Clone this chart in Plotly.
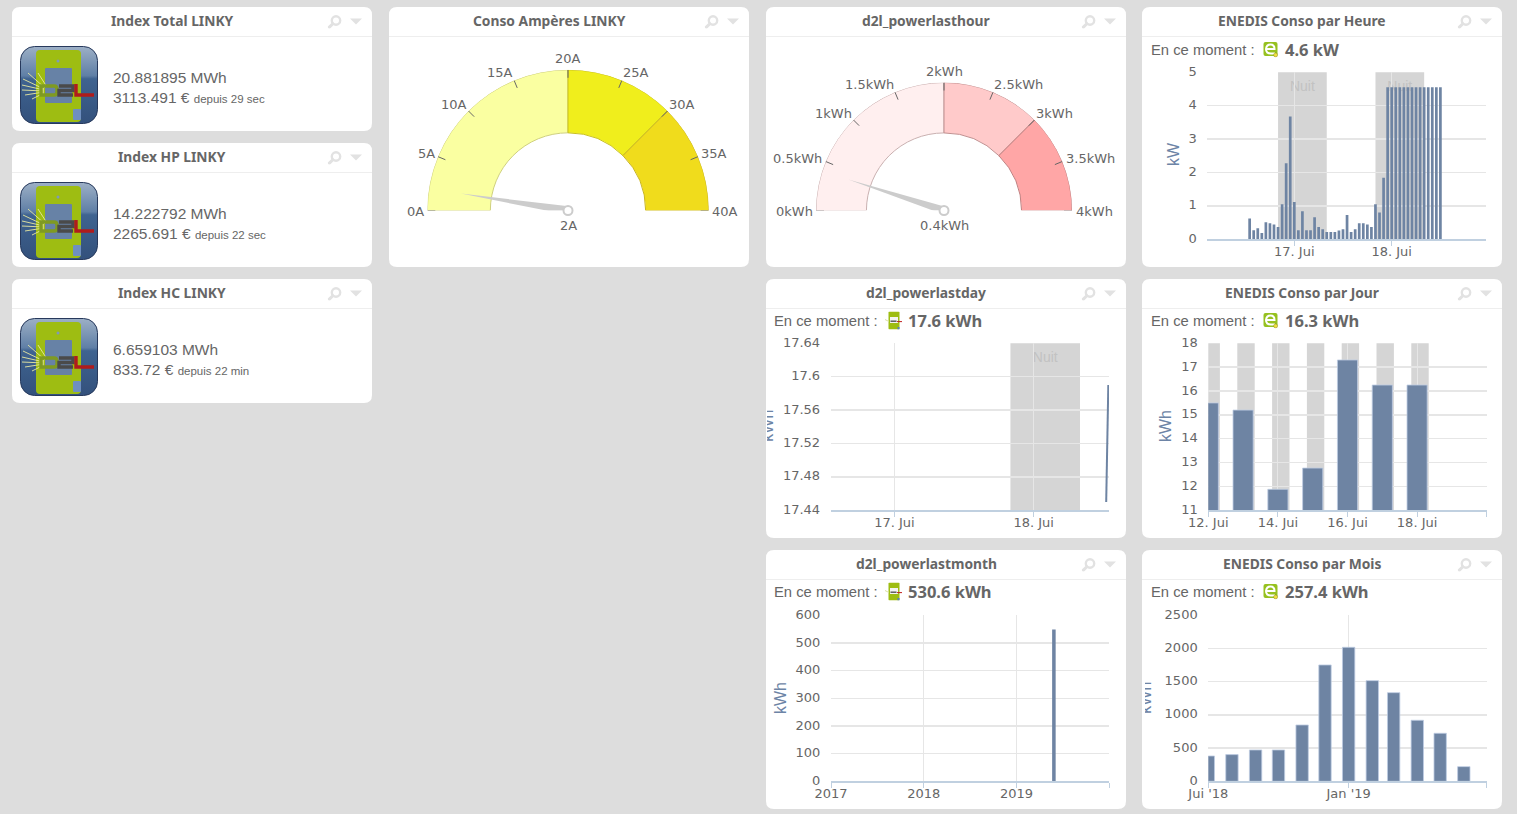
import base64
import math
import plotly.graph_objects as go

W, H = 1517, 814
BG = "#DDDDDD"
TXT = "#666666"
BAR = "#6E84A3"
AXIS = "#C0D0E0"
GRID = "#E6E6E6"
BAND = "#D5D5D5"
TITLE_BLUE = "#6D84A6"
TICK_FONT = "DejaVu Sans"
BODY_FONT = "Liberation Sans"
HEAD_FONT = "Noto Sans"

# ---------- data ----------
HOUR_TIMES = [
    "2019-06-16 13:00", "2019-06-16 14:00", "2019-06-16 15:00", "2019-06-16 16:00", "2019-06-16 17:00", "2019-06-16 18:00",
    "2019-06-16 19:00", "2019-06-16 20:00", "2019-06-16 21:00", "2019-06-16 22:00", "2019-06-16 23:00", "2019-06-17 00:00",
    "2019-06-17 01:00", "2019-06-17 02:00", "2019-06-17 03:00", "2019-06-17 04:00", "2019-06-17 05:00", "2019-06-17 06:00",
    "2019-06-17 07:00", "2019-06-17 08:00", "2019-06-17 09:00", "2019-06-17 10:00", "2019-06-17 11:00", "2019-06-17 12:00",
    "2019-06-17 13:00", "2019-06-17 14:00", "2019-06-17 15:00", "2019-06-17 16:00", "2019-06-17 17:00", "2019-06-17 18:00",
    "2019-06-17 19:00", "2019-06-17 20:00", "2019-06-17 21:00", "2019-06-17 22:00", "2019-06-17 23:00", "2019-06-18 00:00",
    "2019-06-18 01:00", "2019-06-18 02:00", "2019-06-18 03:00", "2019-06-18 04:00", "2019-06-18 05:00", "2019-06-18 06:00",
    "2019-06-18 07:00", "2019-06-18 08:00", "2019-06-18 09:00", "2019-06-18 10:00", "2019-06-18 11:00", "2019-06-18 12:00",
]
HOUR_KW = [
    0.62, 0.27, 0.33, 0.19, 0.51, 0.48, 0.44, 0.37, 1.05, 2.28, 3.68, 1.12,
    0.27, 0.84, 0.27, 0.27, 0.66, 0.37, 0.30, 0.22, 0.22, 0.22, 0.26, 0.30,
    0.73, 0.22, 0.30, 0.48, 0.48, 0.44, 0.37, 1.05, 0.80, 1.84, 4.55, 4.55,
    4.55, 4.55, 4.55, 4.55, 4.55, 4.55, 4.55, 4.55, 4.55, 4.55, 4.55, 4.55,
]
HOUR_NIGHTS = [("2019-06-16 20:00", "2019-06-17 08:00"), ("2019-06-17 20:00", "2019-06-18 08:00")]
HOUR_TICKS = ["2019-06-17", "2019-06-18"]
HOUR_TICK_LABELS = ["17. Jui", "18. Jui"]
HOUR_Y_TICKS = [0, 1, 2, 3, 4, 5]

DAYLINE_TIMES = ["2019-06-18 12:31", "2019-06-18 12:53"]
DAYLINE_KWH = [17.45, 17.59]
DAYLINE_NIGHTS = [("2019-06-17 20:00", "2019-06-18 08:00")]
DAYLINE_TICKS = ["2019-06-17", "2019-06-18"]
DAYLINE_TICK_LABELS = ["17. Jui", "18. Jui"]
DAYLINE_Y_TICKS = [17.44, 17.48, 17.52, 17.56, 17.6, 17.64]
DAYLINE_Y_LABELS = ["17.44", "17.48", "17.52", "17.56", "17.6", "17.64"]

JOUR_DATES = ["2019-06-12", "2019-06-13", "2019-06-14", "2019-06-15", "2019-06-16", "2019-06-17", "2019-06-18"]
JOUR_KWH = [15.5, 15.2, 11.88, 12.77, 17.3, 16.25, 16.25]
JOUR_NIGHTS = [
    ("2019-06-11 20:00", "2019-06-12 08:00"), ("2019-06-12 20:00", "2019-06-13 08:00"),
    ("2019-06-13 20:00", "2019-06-14 08:00"), ("2019-06-14 20:00", "2019-06-15 08:00"),
    ("2019-06-15 20:00", "2019-06-16 08:00"), ("2019-06-16 20:00", "2019-06-17 08:00"),
    ("2019-06-17 20:00", "2019-06-18 08:00"),
]
JOUR_TICKS = ["2019-06-12", "2019-06-14", "2019-06-16", "2019-06-18", "2019-06-20"]
JOUR_TICK_LABELS = ["12. Jui", "14. Jui", "16. Jui", "18. Jui", ""]
JOUR_Y_TICKS = [11, 12, 13, 14, 15, 16, 17, 18]

MONTHBAR_DATES = ["2019-05-28"]
MONTHBAR_KWH = [549]
MONTHBAR_TICKS = ["2017-01-01", "2018-01-01", "2019-01-01", "2020-01-01"]
MONTHBAR_TICK_LABELS = ["2017", "2018", "2019", ""]
MONTHBAR_Y_TICKS = [0, 100, 200, 300, 400, 500, 600]

MOIS_DATES = ["2018-07-01", "2018-08-01", "2018-09-01", "2018-10-01", "2018-11-01", "2018-12-01",
              "2019-01-01", "2019-02-01", "2019-03-01", "2019-04-01", "2019-05-01", "2019-06-01"]
MOIS_KWH = [381, 402, 472, 472, 848, 1752, 2018, 1516, 1335, 919, 723, 221]
MOIS_TICKS = ["2018-07-01", "2019-01-01", "2019-07-01"]
MOIS_TICK_LABELS = ["Jui '18", "Jan '19", ""]
MOIS_Y_TICKS = [0, 500, 1000, 1500, 2000, 2500]

AMP_TICKS = [0, 5, 10, 15, 20, 25, 30, 35, 40]
AMP_LABELS = ["0A", "5A", "10A", "15A", "20A", "25A", "30A", "35A", "40A"]
AMP_BANDS = [0, 20, 30, 40]
AMP_VALUE = 2
KWH_TICKS = [0, 0.5, 1, 1.5, 2, 2.5, 3, 3.5, 4]
KWH_LABELS = ["0kWh", "0.5kWh", "1kWh", "1.5kWh", "2kWh", "2.5kWh", "3kWh", "3.5kWh", "4kWh"]
KWH_BANDS = [0, 2, 3, 4]
KWH_VALUE = 0.4

INDEX_CARDS = [
    ("Index Total LINKY", "20.881895 MWh", "3113.491 €", "depuis 29 sec", 7),
    ("Index HP LINKY", "14.222792 MWh", "2265.691 €", "depuis 22 sec", 143),
    ("Index HC LINKY", "6.659103 MWh", "833.72 €", "depuis 22 min", 279),
]

# ---------- helpers ----------
def fx(x): return x / W
def fy(y): return 1 - y / H

shapes, annotations, images, traces = [], [], [], []
layout_axes = {}

def b64svg(svg):
    return "data:image/svg+xml;base64," + base64.b64encode(svg.encode()).decode()

def image(src, x, y, w, h):
    images.append(dict(source=src, xref="paper", yref="paper", x=fx(x), y=fy(y), sizex=w / W, sizey=h / H,
                       xanchor="left", yanchor="top", sizing="stretch", layer="above"))

def text(x, y, t, size=13, color=TXT, family=BODY_FONT, anchor="left", bold=False, angle=0):
    annotations.append(dict(xref="paper", yref="paper", x=fx(x), y=fy(y), text=t, showarrow=False,
                            xanchor=anchor, yanchor="middle", textangle=angle, align=anchor,
                            borderpad=0, borderwidth=0,
                            font=dict(size=size, color=color, family=family, weight=700 if bold else 400)))

def rounded(x0, y0, x1, y1, r=8):
    X = lambda v: f"{fx(v):.6f}"
    Y = lambda v: f"{fy(v):.6f}"
    return (f"M {X(x0+r)} {Y(y0)} L {X(x1-r)} {Y(y0)} Q {X(x1)} {Y(y0)} {X(x1)} {Y(y0+r)} "
            f"L {X(x1)} {Y(y1-r)} Q {X(x1)} {Y(y1)} {X(x1-r)} {Y(y1)} L {X(x0+r)} {Y(y1)} "
            f"Q {X(x0)} {Y(y1)} {X(x0)} {Y(y1-r)} L {X(x0)} {Y(y0+r)} Q {X(x0)} {Y(y0)} {X(x0+r)} {Y(y0)} Z")

HEAD_ICONS = b64svg(
    '<svg xmlns="http://www.w3.org/2000/svg" viewBox="0 0 40 14" width="40" height="14">'
    '<circle cx="11" cy="6" r="4.2" fill="none" stroke="#E2E2E2" stroke-width="2.4"/>'
    '<line x1="7.8" y1="9.2" x2="4.4" y2="12.6" stroke="#E2E2E2" stroke-width="3" stroke-linecap="round"/>'
    '<path d="M25 4 L37 4 L31 10 Z" fill="#E2E2E2"/></svg>')

def card(x0, y0, x1, y1, title):
    shapes.append(dict(type="path", path=rounded(x0, y0, x1, y1), xref="paper", yref="paper",
                       fillcolor="white", line=dict(width=0), layer="below"))
    shapes.append(dict(type="line", xref="paper", yref="paper", x0=fx(x0), x1=fx(x1), y0=fy(y0 + 29.5), y1=fy(y0 + 29.5),
                       line=dict(color="#EEEEEE", width=1), layer="below"))
    text(x0 + 160, y0 + 13.5, title, size=13.8, family=HEAD_FONT, anchor="center", bold=True)
    image(HEAD_ICONS, x1 - 47, y0 + 7.5, 40, 14)

BIG_ICON = b64svg(
    '<svg xmlns="http://www.w3.org/2000/svg" viewBox="0 0 78 78" width="78" height="78">'
    '<defs><linearGradient id="g" x1="0" y1="0" x2="0" y2="1">'
    '<stop offset="0" stop-color="#9DB0C6"/><stop offset="0.38" stop-color="#5F7FA6"/>'
    '<stop offset="0.42" stop-color="#3F6390"/><stop offset="1" stop-color="#33517C"/></linearGradient></defs>'
    '<rect x="0.5" y="0.5" width="77" height="77" rx="14" fill="url(#g)" stroke="#27395C"/>'
    '<rect x="16" y="4" width="45" height="72" rx="4" fill="#9EBD12"/>'
    '<rect x="25" y="22" width="27" height="35" rx="1" fill="#6782A6"/>'
    '<circle cx="38" cy="15" r="1.5" fill="#7F9AB8"/>'
    '<rect x="53" y="63" width="8" height="11" rx="1" fill="#6F8FC0"/>'
    '<g stroke="#E8E8A0" stroke-width="1" opacity="0.9">'
    '<line x1="24" y1="43" x2="3" y2="33"/><line x1="24" y1="44" x2="2" y2="39"/><line x1="24" y1="45" x2="2" y2="44"/>'
    '<line x1="24" y1="46" x2="5" y2="49"/><line x1="24" y1="47" x2="12" y2="53"/><line x1="25" y1="42" x2="8" y2="27"/>'
    '<line x1="27" y1="41" x2="18" y2="27"/></g>'
    '<g fill="none" stroke-width="3.4">'
    '<path d="M21 40 L34 40 Q37 40 37 43 L37 46 Q37 49 34 49 L21 49 Z" stroke="#7F9A22"/>'
    '<path d="M39 40 L53 40 L53 44.5 L39 44.5 L39 49 L53 49" stroke="#4A4A4A"/>'
    '<path d="M56 38 L56 49 L74 49" stroke="#B01C1C"/></g></svg>')

D2L_SMALL = b64svg(
    '<svg xmlns="http://www.w3.org/2000/svg" viewBox="0 0 18 18" width="18" height="18">'
    '<rect x="3.5" y="0" width="11" height="18" rx="1" fill="#9EBD12"/>'
    '<rect x="5" y="5.5" width="8" height="6" fill="#F4F4F4"/>'
    '<rect x="5.5" y="9" width="6" height="1.4" fill="#555"/>'
    '<rect x="12" y="9.6" width="5" height="1" fill="#C02020"/>'
    '<rect x="12.5" y="15.5" width="2" height="2.5" fill="#5A7FC0"/>'
    '<line x1="0" y1="8" x2="4" y2="10" stroke="#D8E0A0" stroke-width="1"/></svg>')

ENEDIS_SMALL = b64svg(
    '<svg xmlns="http://www.w3.org/2000/svg" viewBox="0 0 16 16" width="16" height="16">'
    '<rect x="0.5" y="0.5" width="14" height="14" rx="2" fill="#96C11F"/>'
    '<path d="M3 7.5 H11.5 Q11.5 3 7.5 3 Q3.5 3 3 7.5 Q3 12 8 12 H12" fill="none" stroke="white" stroke-width="2"/>'
    '<circle cx="12.6" cy="13.4" r="2" fill="#F0E040" stroke="#8A8A20" stroke-width="0.5"/></svg>')

def cart_axes(i, box, xrange, xticks, xlabels, yrange, yticks, ylabels=None):
    x0, y0, x1, y1 = box
    sfx = "" if i == 1 else str(i)
    layout_axes["xaxis" + sfx] = dict(
        domain=[fx(x0), fx(x1)], anchor="y" + sfx, type="date", range=xrange, tickmode="array", automargin=False,
        tickvals=xticks, ticktext=xlabels, ticks="outside", ticklen=5, tickcolor=AXIS, tickwidth=1, ticklabelstandoff=-5,
        showline=True, linecolor=AXIS, linewidth=1.5, showgrid=True, gridcolor=GRID, gridwidth=1, zeroline=False,
        tickfont=dict(family=TICK_FONT, size=13, color=TXT), fixedrange=True)
    layout_axes["yaxis" + sfx] = dict(
        domain=[fy(y1), fy(y0)], anchor="x" + sfx, range=yrange, tickmode="array", tickvals=yticks, automargin=False,
        ticktext=ylabels if ylabels else [str(v) for v in yticks], ticks="outside", ticklen=7, ticklabelshift=-1,
        tickcolor="rgba(0,0,0,0)", showline=False, showgrid=True, gridcolor=GRID, gridwidth=1.5, zeroline=False,
        tickfont=dict(family=TICK_FONT, size=13, color=TXT), fixedrange=True)
    return "x" + sfx, "y" + sfx

def nights(periods, xref, yref, label):
    for a, b in periods:
        s = dict(type="rect", xref=xref, yref=yref + " domain", x0=a, x1=b, y0=0, y1=1, fillcolor=BAND,
                 line=dict(width=0), layer="below")
        if label:
            s["label"] = dict(text="Nuit", textposition="top center", padding=5,
                              font=dict(size=14, color="#C2C2C2", family=BODY_FONT))
        shapes.append(s)

def bars(x, y, xa, ya, width_ms, halo=True):
    traces.append(go.Bar(x=x, y=y, xaxis=xa, yaxis=ya, width=width_ms, hoverinfo="skip", showlegend=False,
                         marker=dict(color=BAR, line=dict(width=1 if halo else 0, color="rgba(190,204,226,0.8)"))))

def moment(x0, y, icon, ix, iw, value, vx):
    text(x0, y - 0.5, "En ce moment :", size=14.8, family=BODY_FONT)
    image(icon, ix, y - iw / 2 - 0.5, iw, iw)
    text(vx, y - 0.5, value, size=16.5, family=HEAD_FONT, bold=True)

def gauge(pid, cx, cy, R, inner, ticks, labels, bands, value, colors, edges, needle, unit_text):
    vmax = ticks[-1]
    ang = lambda v: v / vmax * 180
    layout_axes[pid] = dict(
        domain=dict(x=[fx(cx - R), fx(cx + R)], y=[fy(cy), fy(cy - R)]), sector=[0, 180], bgcolor="rgba(0,0,0,0)",
        radialaxis=dict(visible=False, range=[0, 1]),
        angularaxis=dict(type="linear", direction="clockwise", rotation=180, thetaunit="degrees",
                         showticklabels=False, ticks="", showline=False, showgrid=False))
    for i in range(len(bands) - 1):
        a, b = ang(bands[i]), ang(bands[i + 1])
        traces.append(go.Barpolar(subplot=pid, r=[1 - inner], base=[inner], theta=[(a + b) / 2], width=[b - a],
                                  marker=dict(color=colors[i], line=dict(color=edges[i], width=1)),
                                  hoverinfo="skip", showlegend=False))
    # tick marks on the dial, then the tick labels around it
    tick_r, tick_t = [], []
    inner_tick = 1 - 8 / R
    for t in ticks:
        tick_r += [1, inner_tick, None]
        tick_t += [ang(t), ang(t), None]
    traces.append(go.Scatterpolar(subplot=pid, r=tick_r, theta=tick_t, mode="lines", cliponaxis=False,
                                  connectgaps=False, line=dict(color="#666666", width=1),
                                  hoverinfo="skip", showlegend=False))
    mid = ticks[len(ticks) // 2]
    for t, lab in zip(ticks, labels):
        deg = ang(t)
        a = math.radians(deg)
        px = cx - R * math.cos(a)
        py = cy - R * math.sin(a) - 10 * math.sin(a)
        pad = 1.5 if 30 < deg < 150 else 3.5
        if t == mid:
            text(px, py - 1, lab, size=13, family=TICK_FONT, anchor="center")
        elif t < mid:
            text(px - pad, py + 1, lab, size=13, family=TICK_FONT, anchor="right")
        else:
            text(px + pad, py + 1, lab, size=13, family=TICK_FONT, anchor="left")
    th = ang(value)
    traces.append(go.Scatterpolar(subplot=pid, r=[needle, 0.03, 0.03, needle], theta=[th, th + 90, th - 90, th],
                                  mode="lines", fill="toself", fillcolor="#CCCCCC", line=dict(width=0, color="#CCCCCC"),
                                  cliponaxis=False, hoverinfo="skip", showlegend=False))
    traces.append(go.Scatterpolar(subplot=pid, r=[0], theta=[90], mode="markers", cliponaxis=False,
                                  marker=dict(size=9, color="white", line=dict(color="#CCCCCC", width=2)),
                                  hoverinfo="skip", showlegend=False))
    text(cx, cy + 15, unit_text, size=13, family=TICK_FONT, anchor="center")

def clipped_title(i, clip_x, cy, t):
    """A y title the card edge cuts off, kept as real text in a small clipped subplot."""
    sfx = str(i)
    layout_axes["xaxis" + sfx] = dict(domain=[fx(clip_x), fx(clip_x + 20)], anchor="y" + sfx, range=[0, 1], visible=False, fixedrange=True, automargin=False)
    layout_axes["yaxis" + sfx] = dict(domain=[fy(cy + 25), fy(cy - 25)], anchor="x" + sfx, range=[0, 1], visible=False, fixedrange=True, automargin=False)
    traces.append(go.Bar(x=[0], y=[1], width=[0.5], xaxis="x" + sfx, yaxis="y" + sfx, text=[t], textposition="inside",
                         textangle=-90, constraintext="none", insidetextanchor="middle", cliponaxis=True,
                         textfont=dict(family=BODY_FONT, size=16, color=TITLE_BLUE),
                         marker=dict(color="rgba(0,0,0,0)"), hoverinfo="skip", showlegend=False))

# ---------- index cards ----------
for title, energy, money, since, top in INDEX_CARDS:
    card(12, top, 372, top + 124, title)
    image(BIG_ICON, 20, top + 39, 78, 78)
    text(113, top + 70.5, energy, size=15.5)
    text(113, top + 90.3, f'{money} <span style="font-size:11.5px">{since}</span>', size=15.5)

# ---------- gauges ----------
card(389, 7, 749, 267, "Conso Ampères LINKY")
gauge("polar", 568, 210.5, 140.7, 0.552, AMP_TICKS, AMP_LABELS, AMP_BANDS, AMP_VALUE,
      ["#FAFFA1", "#F0EE1C", "#F0DC1C"], ["#CFD07E", "#C9C020", "#C9B520"], 0.77, "2A")
card(766, 7, 1126, 267, "d2l_powerlasthour")
gauge("polar2", 944, 210.5, 128, 0.606, KWH_TICKS, KWH_LABELS, KWH_BANDS, KWH_VALUE,
      ["#FFEFEF", "#FFCACA", "#FFA6A6"], ["#C9B0B0", "#C09090", "#C08080"], 0.786, "0.4kWh")

# ---------- ENEDIS par heure ----------
card(1142, 7, 1502, 267, "ENEDIS Conso par Heure")
moment(1151, 50, ENEDIS_SMALL, 1263, 16, "4.6 kW", 1285)
xa, ya = cart_axes(1, (1207.3, 72.3, 1486, 239.3), ["2019-06-16 02:34", "2019-06-18 23:14"], HOUR_TICKS, HOUR_TICK_LABELS,
                   [0, 5], HOUR_Y_TICKS)
nights(HOUR_NIGHTS, xa, ya, True)
bars(HOUR_TIMES, HOUR_KW, xa, ya, 2400000, halo=False)
text(1173, 154, "kW", size=16, color=TITLE_BLUE, anchor="center", angle=-90)

# ---------- d2l par jour (line) ----------
card(766, 279, 1126, 538, "d2l_powerlastday")
moment(774, 321, D2L_SMALL, 885, 18, "17.6 kWh", 908)
xa, ya = cart_axes(2, (830.7, 343.3, 1109, 510.3), ["2019-06-16 13:00", "2019-06-18 13:00"], DAYLINE_TICKS, DAYLINE_TICK_LABELS,
                   [17.44, 17.64], DAYLINE_Y_TICKS, DAYLINE_Y_LABELS)
nights(DAYLINE_NIGHTS, xa, ya, True)
traces.append(go.Scatter(x=DAYLINE_TIMES, y=DAYLINE_KWH, xaxis=xa, yaxis=ya, mode="lines",
                         line=dict(color=BAR, width=2), hoverinfo="skip", showlegend=False))
clipped_title(6, 767, 425.7, "kWh")

# ---------- ENEDIS par jour ----------
card(1142, 279, 1502, 538, "ENEDIS Conso par Jour")
moment(1151, 321, ENEDIS_SMALL, 1263, 16, "16.3 kWh", 1285)
xa, ya = cart_axes(3, (1208.3, 343.3, 1486.7, 510.3), ["2019-06-12", "2019-06-20"], JOUR_TICKS, JOUR_TICK_LABELS,
                   [11, 18], JOUR_Y_TICKS)
nights(JOUR_NIGHTS, xa, ya, False)
bars(JOUR_DATES, JOUR_KWH, xa, ya, 50000000)
text(1165, 426, "kWh", size=16, color=TITLE_BLUE, anchor="center", angle=-90)

# ---------- d2l par mois ----------
card(766, 550, 1126, 809, "d2l_powerlastmonth")
moment(774, 592, D2L_SMALL, 885, 18, "530.6 kWh", 908)
xa, ya = cart_axes(4, (831, 615.3, 1109.3, 781.3), ["2017-01-01", "2020-01-01"], MONTHBAR_TICKS, MONTHBAR_TICK_LABELS,
                   [0, 600], MONTHBAR_Y_TICKS)
bars(MONTHBAR_DATES, MONTHBAR_KWH, xa, ya, 1200000000, halo=False)
text(780, 698, "kWh", size=16, color=TITLE_BLUE, anchor="center", angle=-90)

# ---------- ENEDIS par mois ----------
card(1142, 550, 1502, 809, "ENEDIS Conso par Mois")
moment(1151, 592, ENEDIS_SMALL, 1263, 16, "257.4 kWh", 1285)
xa, ya = cart_axes(5, (1208.3, 615.3, 1486.7, 781.3), ["2018-07-01", "2019-07-01"], MOIS_TICKS, MOIS_TICK_LABELS,
                   [0, 2500], MOIS_Y_TICKS)
bars(MOIS_DATES, MOIS_KWH, xa, ya, 1400000000)
clipped_title(7, 1145, 697.7, "kWh")

fig = go.Figure(data=traces)
fig.update_layout(
    template="none", width=W, height=H, autosize=False, margin=dict(l=0, r=0, t=0, b=0), paper_bgcolor=BG, plot_bgcolor="rgba(0,0,0,0)",
    showlegend=False, barmode="overlay", shapes=shapes, annotations=annotations, images=images,
    font=dict(family=BODY_FONT, color=TXT), **layout_axes)
fig.write_html("out.html", config=dict(displayModeBar=False, staticPlot=True),
               post_script="document.body.style.margin='0';document.body.style.background='#DDDDDD';document.documentElement.style.overflow='hidden';")
